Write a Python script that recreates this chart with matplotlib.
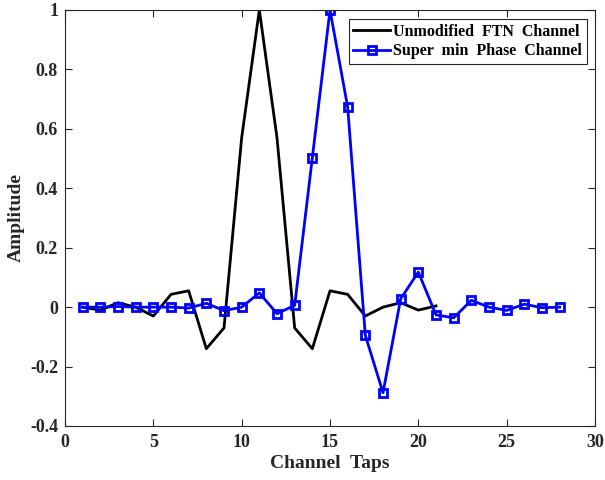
import numpy as np
import matplotlib.pyplot as plt

plt.rcParams['font.family'] = 'Liberation Serif'
plt.rcParams['font.weight'] = 'bold'

taps_ftn = np.arange(1, 22)
amp_ftn = [0, -0.01, 0.015, 0, -0.03, 0.043, 0.055, -0.14, -0.07, 0.57, 1.0,
           0.57, -0.07, -0.14, 0.055, 0.043, -0.03, 0, 0.015, -0.01, 0.004]

taps_min = np.arange(1, 29)
amp_min = [0, 0, 0.002, 0, 0, 0, -0.003, 0.013, -0.012, 0.0, 0.048, -0.022,
           0.006, 0.503, 1.0, 0.673, -0.095, -0.288, 0.028, 0.118, -0.026,
           -0.036, 0.023, 0.0, -0.011, 0.01, -0.002, 0.0]

dark = '#262626'

fig = plt.figure(figsize=(6.05, 4.8), dpi=100)
ax = fig.add_axes([65/605, 54/480, 530/605, 416/480])

ax.plot(taps_ftn, amp_ftn, color='k', linewidth=2, label='Unmodified  FTN  Channel')
ax.plot(taps_min, amp_min, color='b', linewidth=2, marker='s', markersize=5.5,
        markerfacecolor='none', markeredgewidth=2, label='Super  min  Phase  Channel')

ax.set_xlim(0, 30)
ax.set_ylim(-0.4, 1)
ax.set_xticks(np.arange(0, 31, 5))
ax.set_yticks(np.arange(-0.4, 1.01, 0.2))
ax.set_yticklabels(['-0.4', '-0.2', '0', '0.2', '0.4', '0.6', '0.8', '1'])
ax.tick_params(direction='in', top=True, right=True, labelsize=13, length=5,
               color=dark, labelcolor=dark)
ax.tick_params(axis='x', pad=6)
ax.tick_params(axis='y', pad=5)
for s in ax.spines.values():
    s.set_color(dark)

ax.set_xlabel('Channel  Taps', fontsize=14, fontweight='bold', color=dark, labelpad=3)
ax.set_ylabel('Amplitude', fontsize=14, fontweight='bold', color=dark, labelpad=4)

leg = ax.legend(loc='upper right', bbox_to_anchor=(0.985, 0.978), fontsize=11.5,
                fancybox=False, framealpha=1, edgecolor=dark,
                borderpad=0.3, labelspacing=0.2, handlelength=2.3,
                handletextpad=0.2, borderaxespad=0)
leg.get_frame().set_linewidth(0.8)

fig.savefig('out.png', dpi=100)
